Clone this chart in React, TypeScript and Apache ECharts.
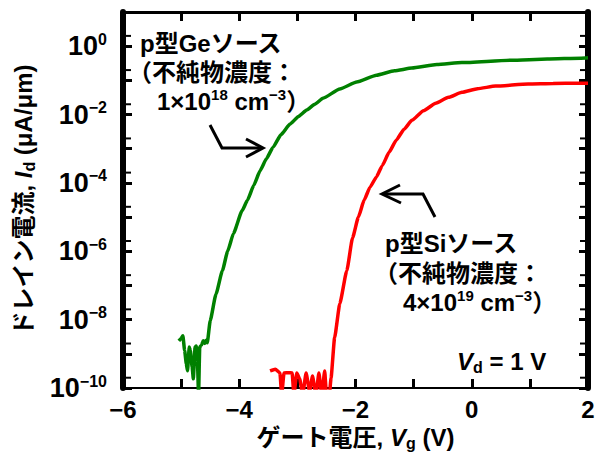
import React, { useEffect, useRef } from 'react';
import * as echarts from 'echarts';

// Gate voltage (V) and drain current (µA/µm), p-type Ge source
const geVg = [-5.04, -5.0, -4.97, -4.94, -4.91, -4.89, -4.86, -4.84, -4.81, -4.79, -4.76, -4.74, -4.72, -4.7, -4.68, -4.65, -4.62, -4.59, -4.57, -4.55,
  -4.5, -4.4, -4.29, -4.2, -4.1, -3.95, -3.86, -3.75, -3.64, -3.53, -3.42, -3.28, -3.13, -2.98, -2.84, -2.7, -2.56, -2.27, -1.98, -1.64, -1.33, -1.03, -0.6, -0.17, 0.68, 1.3, 1.88, 2.0];
const geId = [2.4e-9, 2.8e-9, 3.4e-9, 1.26e-9, 5.0e-10, 3.2e-10, 1.58e-9, 1.23e-9, 4.0e-10, 1.86e-10, 1.58e-9, 1.7e-9, 6.3e-10, 6.3e-11, 1.58e-9, 1.78e-9, 2.4e-9, 2.0e-9, 2.5e-9, 2.1e-9,
  9.3e-9, 5.6e-8, 2.7e-7, 1.0e-6, 3.3e-6, 1.55e-5, 3.1e-5, 8.5e-5, 2.3e-4, 5.2e-4, 1.1e-3, 2.6e-3, 5.2e-3, 8.8e-3, 1.35e-2, 2.0e-2, 3.0e-2, 5.6e-2, 8.9e-2, 0.141, 0.19, 0.229, 0.29, 0.331, 0.389, 0.42, 0.447, 0.457];

// p-type Si source
const siVg = [-3.47, -3.38, -3.3, -3.27, -3.23, -3.15, -3.09, -3.06, -3.01, -2.96, -2.91, -2.85, -2.79, -2.74, -2.68, -2.63, -2.58, -2.53, -2.5, -2.45,
  -2.42, -2.36, -2.27, -2.15, -2.05, -1.95, -1.85, -1.75, -1.64, -1.54, -1.42, -1.3, -1.16, -1.03, -0.83, -0.62, -0.4, -0.17, 0.1, 0.41, 0.97, 1.4, 1.83, 2.0];
const siId = [3.16e-10, 3.55e-10, 2.75e-10, 6.3e-11, 2.75e-10, 2.8e-10, 2.75e-10, 6.3e-11, 2.75e-10, 1.86e-10, 6.3e-11, 2.75e-10, 7.9e-11, 2.24e-10, 6.3e-11, 2.75e-10, 6.3e-11, 3.16e-10, 6.3e-11, 6.3e-11,
  2.0e-10, 2.95e-9, 2.95e-8, 2.7e-7, 2.5e-6, 1.0e-5, 3.2e-5, 7.5e-5, 1.5e-4, 3.2e-4, 8.0e-4, 1.78e-3, 3.8e-3, 6.8e-3, 1.3e-2, 2.14e-2, 3.2e-2, 4.47e-2, 5.7e-2, 6.8e-2, 7.8e-2, 8.1e-2, 8.3e-2, 8.3e-2];

const xRange = [-6, 2];
const yRange = [1e-10, 1e1];
const yMinorTicks = [2e-10, 2e-9, 2e-8, 2e-7, 2e-6, 2e-5, 2e-4, 2e-3, 2e-2, 2e-1, 2e0];

const FONT = '"Liberation Sans", Arial, "Noto Sans CJK JP", sans-serif';
const BLACK = '#000';

const base = { fontFamily: FONT, fontWeight: 'bold' as const, color: BLACK };

export default function App() {
  const ref = useRef<HTMLDivElement>(null);
  useEffect(() => {
    if (!ref.current) return;
    const chart = echarts.init(ref.current, undefined, { renderer: 'svg' });
    const supStyle = { fontFamily: FONT, fontWeight: 'bold', fill: BLACK, fontSize: 15, verticalAlign: 'top', lineHeight: 14 };
    const textStyle = (x: number, y: number, text: string) => ({
      type: 'text',
      x,
      y,
      z: 100,
      style: {
        text,
        fontFamily: FONT,
        fontWeight: 'bold',
        fontSize: 24,
        fill: BLACK,
        lineHeight: 28,
        verticalAlign: 'middle',
        textVerticalAlign: 'middle',
        rich: { s: supStyle },
      },
    });
    const option: any = {
      animation: false,
      grid: { left: 123, right: 10, top: 12, bottom: 75 },
      xAxis: [
        {
          type: 'value',
          min: xRange[0],
          max: xRange[1],
          interval: 1,
          position: 'bottom',
          splitLine: { show: false },
          axisLine: { show: true, onZero: false, lineStyle: { color: BLACK, width: 2 } },
          axisTick: { show: true, inside: true, length: 9, lineStyle: { color: BLACK, width: 3 } },
          axisLabel: {
            margin: 9,
            fontSize: 24,
            ...base,
            formatter: (v: number) => (Math.round(v) % 2 === 0 ? (v < 0 ? '−' + Math.abs(v) : String(v)) : ''),
          },
          name: '{t|ゲート電圧, }{i|V}{sub|g}{t| (V)}',
          nameLocation: 'middle',
          nameGap: 35,
          nameTextStyle: {
            ...base,
            fontSize: 24,
            rich: {
              t: { ...base, fontSize: 24, lineHeight: 28 },
              i: { ...base, fontSize: 24, fontStyle: 'italic', lineHeight: 28 },
              sub: { ...base, fontSize: 16, verticalAlign: 'bottom', lineHeight: 12 },
            },
          },
        },
        {
          type: 'value',
          min: xRange[0],
          max: xRange[1],
          interval: 1,
          position: 'top',
          splitLine: { show: false },
          axisLine: { show: true, onZero: false, lineStyle: { color: BLACK, width: 3 } },
          axisTick: { show: true, inside: true, length: 9, lineStyle: { color: BLACK, width: 3 } },
          axisLabel: { show: false },
        },
      ],
      yAxis: [
        {
          type: 'log',
          logBase: 10,
          min: yRange[0],
          max: yRange[1],
          interval: 1,
          position: 'left',
          splitLine: { show: false },
          axisLine: { show: true, onZero: false, lineStyle: { color: BLACK, width: 6 } },
          axisTick: { show: true, inside: true, length: 9, lineStyle: { color: BLACK, width: 3 } },
          axisLabel: {
            margin: 16,
            ...base,
            formatter: (v: number) => {
              const e = Math.round(Math.log10(v));
              if (e % 2 !== 0) return '';
              return `{b|10}{s|${e < 0 ? '−' : ''}${Math.abs(e)}}`;
            },
            rich: {
              b: { ...base, fontSize: 27, lineHeight: 30 },
              s: { ...base, fontSize: 16, verticalAlign: 'top', lineHeight: 16 },
            },
          },
          name: '{t|ドレイン電流, }{i|I}{sub|d}{t| (μA/μm)}',
          nameLocation: 'middle',
          nameGap: 86,
          nameTextStyle: {
            ...base,
            fontSize: 24,
            rich: {
              t: { ...base, fontSize: 24, lineHeight: 28 },
              i: { ...base, fontSize: 24, fontStyle: 'italic', lineHeight: 28 },
              sub: { ...base, fontSize: 16, verticalAlign: 'bottom', lineHeight: 12 },
            },
          },
        },
        {
          type: 'log',
          logBase: 10,
          min: yRange[0],
          max: yRange[1],
          interval: 1,
          position: 'right',
          splitLine: { show: false },
          axisLine: { show: true, onZero: false, lineStyle: { color: BLACK, width: 6 } },
          axisTick: { show: true, inside: true, length: 9, lineStyle: { color: BLACK, width: 3 } },
          axisLabel: { show: false },
        },
      ],
      series: [
        {
          type: 'line',
          name: 'Ge',
          data: geVg.map((v, i) => [v, geId[i]]),
          showSymbol: false,
          clip: true,
          smooth: 0.15,
          smoothMonotone: 'x',
          lineStyle: { color: '#008000', width: 3.5 },
          itemStyle: { color: '#008000' },
          z: 3,
        },
        {
          type: 'line',
          name: 'Si',
          data: siVg.map((v, i) => [v, siId[i]]),
          showSymbol: false,
          clip: true,
          smooth: 0.15,
          smoothMonotone: 'x',
          lineStyle: { color: '#ff0000', width: 3.5 },
          itemStyle: { color: '#ff0000' },
          z: 3,
        },
        {
          type: 'custom',
          silent: true,
          clip: false,
          z: 5,
          data: yMinorTicks.map((v) => [xRange[0], v]),
          renderItem: (_p: any, api: any) => {
            const pl = api.coord([xRange[0], api.value(1)]);
            const pr = api.coord([xRange[1], api.value(1)]);
            return {
              type: 'group',
              children: [
                { type: 'line', shape: { x1: pl[0], y1: pl[1], x2: pl[0] + 8, y2: pl[1] }, style: { stroke: BLACK, lineWidth: 2 } },
                { type: 'line', shape: { x1: pr[0], y1: pr[1], x2: pr[0] - 8, y2: pr[1] }, style: { stroke: BLACK, lineWidth: 2 } },
              ],
            };
          },
        },
      ],
      graphic: [
        textStyle(140, 43, 'p型Geソース'),
        textStyle(128, 72, '（不純物濃度：'),
        textStyle(157, 101, '1×10{s|18} cm{s|−3}）'),
        textStyle(385, 243, 'p型Siソース'),
        textStyle(374, 273, '（不純物濃度：'),
        textStyle(403, 302, '4×10{s|19} cm{s|−3}）'),
        {
          type: 'text',
          x: 457,
          y: 361,
          z: 100,
          style: {
            text: '{i|V}{sub|d}{t| = 1 V}',
            verticalAlign: 'middle',
            textVerticalAlign: 'middle',
            fill: BLACK,
            rich: {
              t: { fontFamily: FONT, fontWeight: 'bold', fontSize: 24, fill: BLACK, lineHeight: 28 },
              i: { fontFamily: FONT, fontWeight: 'bold', fontStyle: 'italic', fontSize: 24, fill: BLACK, lineHeight: 28 },
              sub: { fontFamily: FONT, fontWeight: 'bold', fontSize: 16, fill: BLACK, verticalAlign: 'bottom', lineHeight: 12 },
            },
          },
        },
        {
          type: 'polyline',
          z: 100,
          shape: { points: [[210, 125], [222, 148], [262, 148]] },
          style: { stroke: BLACK, lineWidth: 3, fill: null },
        },
        {
          type: 'polyline',
          z: 100,
          shape: { points: [[246, 139], [263, 148], [246, 157]] },
          style: { stroke: BLACK, lineWidth: 3, fill: null },
        },
        {
          type: 'polyline',
          z: 100,
          shape: { points: [[435, 217], [423, 194], [383, 194]] },
          style: { stroke: BLACK, lineWidth: 3, fill: null },
        },
        {
          type: 'polyline',
          z: 100,
          shape: { points: [[400, 185], [382, 194], [401, 203]] },
          style: { stroke: BLACK, lineWidth: 3, fill: null },
        },
      ],
    };
    chart.setOption(option);
    return () => chart.dispose();
  }, []);
  return <div ref={ref} style={{ position: 'fixed', left: 0, top: 0, width: 598, height: 463, background: '#fff' }} />;
}
